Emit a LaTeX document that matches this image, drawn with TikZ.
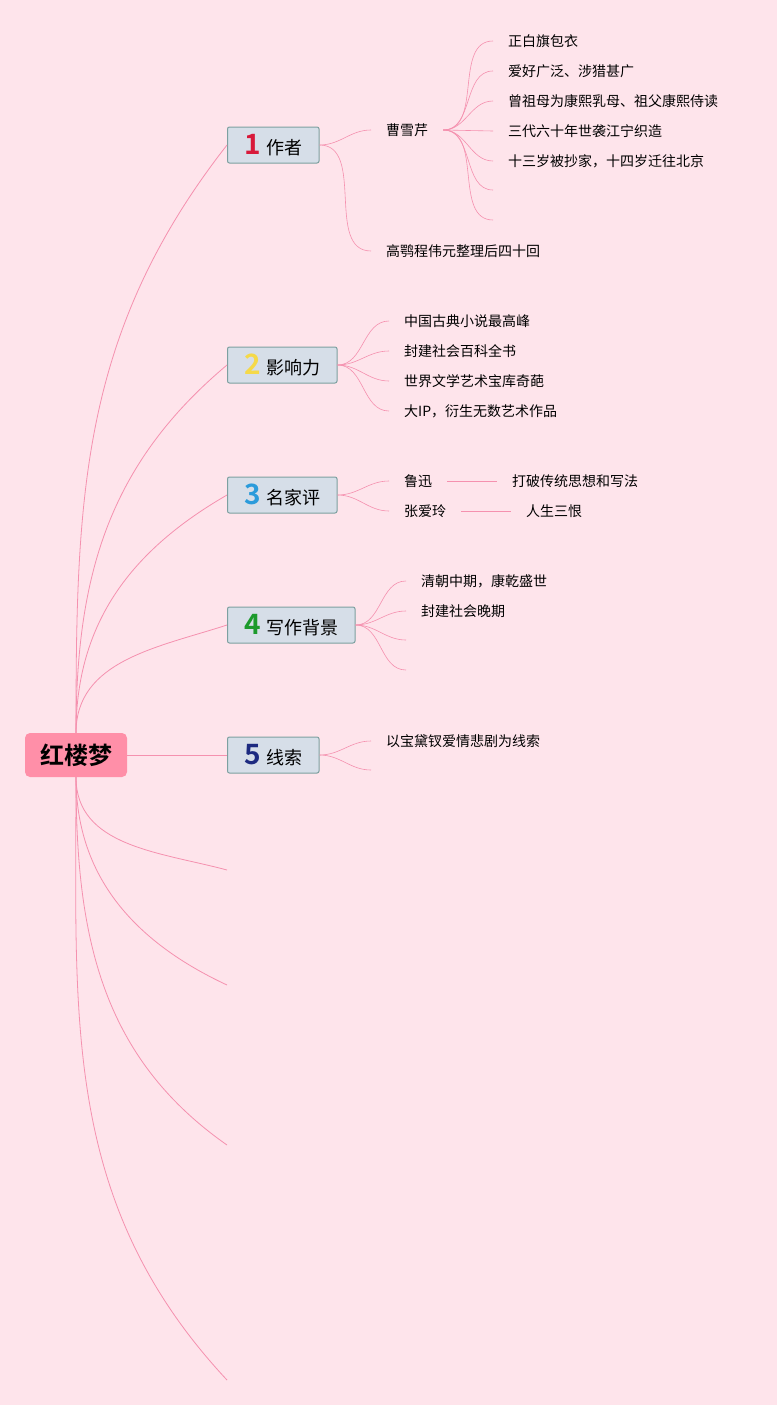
\documentclass[tikz,border=0pt]{standalone}
\usepackage{fontspec}
\setmainfont{Noto Sans CJK SC}[BoldFont={Noto Sans CJK SC Bold}]
\usetikzlibrary{positioning}
\definecolor{bgpink}{RGB}{254,228,235}
\definecolor{linepink}{RGB}{245,145,175}
\definecolor{rootpink}{RGB}{255,143,168}
\definecolor{topicfill}{RGB}{214,222,232}
\definecolor{topicedge}{RGB}{125,160,160}
\definecolor{numred}{RGB}{216,25,58}
\definecolor{numyellow}{RGB}{245,217,73}
\definecolor{numblue}{RGB}{43,155,219}
\definecolor{numgreen}{RGB}{28,154,44}
\definecolor{numnavy}{RGB}{29,42,128}
\newcommand\tnum[2]{{\color{#1}\fontsize{28}{28}\selectfont\bfseries #2}\hspace{5pt}}
\tikzstyle{root} = [fill=rootpink, rounded corners=5pt, minimum width=102pt, minimum height=44pt, font=\bfseries\fontsize{24}{24}\selectfont]
\tikzstyle{topic} = [draw=topicedge, fill=topicfill, line width=1pt, rounded corners=2pt, minimum height=36pt, inner xsep=17pt, anchor=west, font=\fontsize{18}{18}\selectfont]
\tikzstyle{leaf} = [anchor=west, inner xsep=15pt, inner ysep=2pt, font=\fontsize{14}{14}\selectfont]
\tikzstyle{branch} = [draw=linepink, line width=0.8pt]
\tikzstyle{twig} = [draw=linepink, line width=0.6pt]

\begin{document}
\begin{tikzpicture}[x=1pt,y=-1pt]
\fill[bgpink] (0,0) rectangle (777,1405);
\useasboundingbox (0,0) rectangle (777,1405);

% root and main topics
\node[root] (hlm) at (76,755) {红楼梦};
\node[topic] (zz) at (227,145) {\tnum{numred}{1}作者};
\node[topic] (yxl) at (227,365) {\tnum{numyellow}{2}影响力};
\node[topic] (mjp) at (227,495) {\tnum{numblue}{3}名家评};
\node[topic] (xzbj) at (227,625) {\tnum{numgreen}{4}写作背景};
\node[topic] (xs) at (227,755) {\tnum{numnavy}{5}线索};

\coordinate (e_1) at (227,870);
\coordinate (e_2) at (227,985);
\coordinate (e_3) at (227,1145);
\coordinate (e_4) at (227,1380);

\draw[branch] (hlm.north) to[out=90,in=-128] (zz.west);
\draw[branch] (hlm.north) to[out=90,in=-140] (yxl.west);
\draw[branch] (hlm.north) to[out=90,in=-150] (mjp.west);
\draw[branch] (hlm.north) to[out=90,in=-162] (xzbj.west);
\draw[branch] (hlm.east) -- (xs.west);
\draw[branch] (hlm.south) to[out=-90,in=165] (e_1);
\draw[branch] (hlm.south) to[out=-90,in=155] (e_2);
\draw[branch] (hlm.south) to[out=-90,in=145] (e_3);
\draw[branch] (hlm.south) to[out=-90,in=133] (e_4);

% 1 author
\node[leaf] (cxq) at (371,130) {曹雪芹};
\node[leaf] (ge) at (371,251) {高鹗程伟元整理后四十回};
\draw[twig] (zz.east) to[out=0,in=180] (cxq.west);
\draw[twig] (zz.east) to[out=0,in=180] (ge.west);

\node[leaf] (cx_1) at (493,41) {正白旗包衣};
\node[leaf] (cx_2) at (493,71) {爱好广泛、涉猎甚广};
\node[leaf] (cx_3) at (493,101) {曾祖母为康熙乳母、祖父康熙侍读};
\node[leaf] (cx_4) at (493,131) {三代六十年世袭江宁织造};
\node[leaf] (cx_5) at (493,161) {十三岁被抄家，十四岁迁往北京};
\coordinate (cx_6) at (493,190);
\coordinate (cx_7) at (493,220);
\draw[twig] (cxq.east) to[out=0,in=180] (cx_1.west);
\draw[twig] (cxq.east) to[out=0,in=180] (cx_2.west);
\draw[twig] (cxq.east) to[out=0,in=180] (cx_3.west);
\draw[twig] (cxq.east) -- (cx_4.west);
\draw[twig] (cxq.east) to[out=0,in=180] (cx_5.west);
\draw[twig] (cxq.east) to[out=0,in=180] (cx_6);
\draw[twig] (cxq.east) to[out=0,in=180] (cx_7);

% 2 influence
\node[leaf] (yx_1) at (389,321) {中国古典小说最高峰};
\node[leaf] (yx_2) at (389,351) {封建社会百科全书};
\node[leaf] (yx_3) at (389,381) {世界文学艺术宝库奇葩};
\node[leaf] (yx_4) at (389,411) {大IP，衍生无数艺术作品};
\draw[twig] (yxl.east) to[out=0,in=180] (yx_1.west);
\draw[twig] (yxl.east) to[out=0,in=180] (yx_2.west);
\draw[twig] (yxl.east) to[out=0,in=180] (yx_3.west);
\draw[twig] (yxl.east) to[out=0,in=180] (yx_4.west);

% 3 comments
\node[leaf] (lx) at (389,481) {鲁迅};
\node[leaf] (zal) at (389,511) {张爱玲};
\node[leaf] (lx_c) at (497,481) {打破传统思想和写法};
\node[leaf] (zal_c) at (511,511) {人生三恨};
\draw[twig] (mjp.east) to[out=0,in=180] (lx.west);
\draw[twig] (mjp.east) to[out=0,in=180] (zal.west);
\draw[twig] (lx.east) -- (lx_c.west);
\draw[twig] (zal.east) -- (zal_c.west);

% 4 background
\node[leaf] (bj_1) at (406,581) {清朝中期，康乾盛世};
\node[leaf] (bj_2) at (406,611) {封建社会晚期};
\coordinate (bj_3) at (406,640);
\coordinate (bj_4) at (406,670);
\draw[twig] (xzbj.east) to[out=0,in=180] (bj_1.west);
\draw[twig] (xzbj.east) to[out=0,in=180] (bj_2.west);
\draw[twig] (xzbj.east) to[out=0,in=180] (bj_3);
\draw[twig] (xzbj.east) to[out=0,in=180] (bj_4);

% 5 clue
\node[leaf] (xs_1) at (371,741) {以宝黛钗爱情悲剧为线索};
\coordinate (xs_2) at (371,770);
\draw[twig] (xs.east) to[out=0,in=180] (xs_1.west);
\draw[twig] (xs.east) to[out=0,in=180] (xs_2);

\end{tikzpicture}
\end{document}
